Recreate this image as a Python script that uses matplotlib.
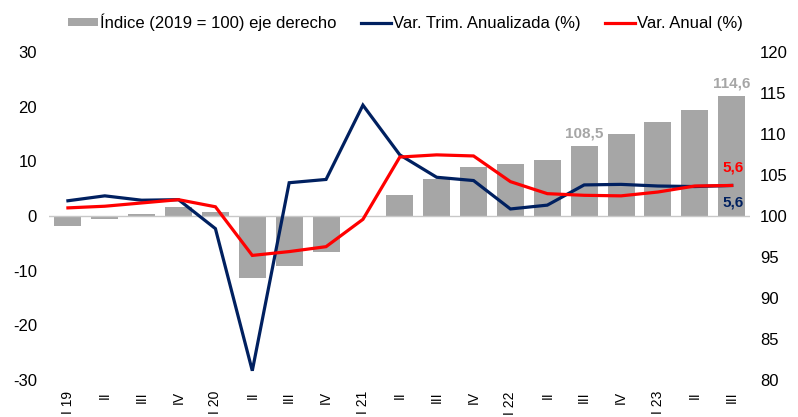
"""Indice trimestral (2019 = 100) con variaciones trimestral anualizada y anual."""
import matplotlib

matplotlib.use("Agg")
import matplotlib.pyplot as plt
import numpy as np
from matplotlib.lines import Line2D
from matplotlib.patches import Patch

plt.rcParams["font.family"] = ["Liberation Sans", "DejaVu Sans"]
plt.rcParams["axes.unicode_minus"] = False

quarters = ["I 19", "II", "III", "IV", "I 20", "II", "III", "IV", "I 21", "II", "III", "IV",
            "I 22", "II", "III", "IV", "I 23", "II", "III"]
indice = [98.8, 99.6, 100.3, 101.1, 100.5, 92.5, 93.9, 95.6, 100.0, 102.6, 104.5, 106.0,
          106.4, 106.9, 108.5, 110.0, 111.5, 112.9, 114.6]
var_trim = [2.8, 3.7, 2.9, 3.0, -2.3, -28.3, 6.1, 6.7, 20.3, 11.2, 7.1, 6.5,
            1.3, 2.0, 5.7, 5.8, 5.5, 5.4, 5.6]
var_anual = [1.5, 1.8, 2.4, 3.0, 1.7, -7.2, -6.5, -5.6, -0.6, 10.8, 11.2, 11.0,
             6.3, 4.1, 3.8, 3.7, 4.4, 5.5, 5.6]

GRAY = "#A6A6A6"
NAVY = "#002060"
RED = "#FF0000"

x = np.arange(len(quarters))

fig = plt.figure(figsize=(7.98, 4.17), dpi=100)
ax = fig.add_axes([0.062, 0.0887, 0.878, 0.7863])
ax2 = ax.twinx()

# bars on the right axis, lines on the left axis drawn above
ax2.bar(x, np.array(indice) - 100, bottom=100, width=0.73, color=GRAY, zorder=2)
ax.set_zorder(ax2.get_zorder() + 1)
ax.patch.set_visible(False)

ax.axhline(0, color="#C8C8C8", lw=1, zorder=1)
ax.plot(x, var_trim, color=NAVY, lw=2.3, zorder=3, solid_joinstyle="miter")
ax.plot(x, var_anual, color=RED, lw=2.3, zorder=4, solid_joinstyle="miter")

ax.set_xlim(-0.5, len(quarters) - 0.5)
ax.set_ylim(-30, 30)
ax.set_yticks(np.arange(-30, 31, 10))
ax2.set_ylim(80, 120)
ax2.set_yticks(np.arange(80, 121, 5))

ax.set_xticks(x)
ax.set_xticklabels(quarters, rotation=90)
ax.tick_params(axis="x", length=0, pad=8, labelsize=10, colors="#000000")
ax.tick_params(axis="y", length=0, pad=9, labelsize=12)
ax2.tick_params(axis="y", length=0, pad=7, labelsize=12)

for a in (ax, ax2):
    for s in a.spines.values():
        s.set_visible(False)

# data labels
lbl = dict(fontsize=11, fontweight="bold", ha="center")
ax2.annotate("114,6", (x[-1], indice[-1]), xytext=(0, 4), textcoords="offset points",
             va="bottom", color=GRAY, **lbl)
ax2.annotate("108,5", (x[14], indice[14]), xytext=(0, 4), textcoords="offset points",
             va="bottom", color=GRAY, **lbl)
ax.annotate("5,6", (x[-1], var_anual[-1]), xytext=(1, 8), textcoords="offset points",
            va="bottom", color=RED, **lbl)
ax.annotate("5,6", (x[-1], var_trim[-1]), xytext=(1, -7), textcoords="offset points",
            va="top", color=NAVY, **lbl)

handles = [
    Patch(facecolor=GRAY, edgecolor="none"),
    Line2D([], [], color=NAVY, lw=2.3),
    Line2D([], [], color=RED, lw=2.3),
]
labels = ["Índice (2019 = 100) eje derecho", "Var. Trim. Anualizada (%)", "Var. Anual (%)"]
fig.legend(handles, labels, loc="center", bbox_to_anchor=(0.508, 0.947), ncol=3,
           frameon=False, fontsize=12, handlelength=1.8, handletextpad=0.1,
           columnspacing=1.5, handleheight=0.4)

fig.savefig("out.png", dpi=100)
